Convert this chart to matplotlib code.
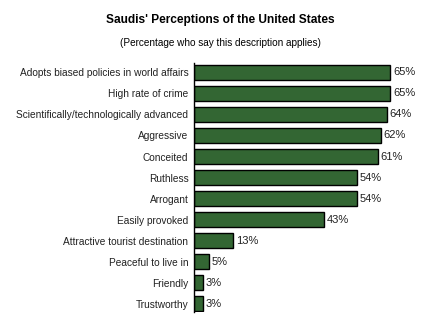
import matplotlib
matplotlib.use("Agg")
import matplotlib.pyplot as plt

categories = [
    "Adopts biased policies in world affairs",
    "High rate of crime",
    "Scientifically/technologically advanced",
    "Aggressive",
    "Conceited",
    "Ruthless",
    "Arrogant",
    "Easily provoked",
    "Attractive tourist destination",
    "Peaceful to live in",
    "Friendly",
    "Trustworthy",
]
values = [65, 65, 64, 62, 61, 54, 54, 43, 13, 5, 3, 3]

title = "Saudis' Perceptions of the United States"
subtitle = "(Percentage who say this description applies)"

plt.rcParams["font.family"] = ["Liberation Sans", "DejaVu Sans"]

fig = plt.figure(figsize=(4.4, 3.25), dpi=100)
ax = fig.add_axes([194 / 440, 1 - 312 / 325, 226 / 440, (312 - 63) / 325])

y = list(range(len(categories)))
ax.barh(y, values, height=0.72, color="#336633", edgecolor="black", linewidth=1.0)

for yi, v in zip(y, values):
    ax.text(v + 1.0, yi, f"{v}%", va="center", ha="left", fontsize=8, color="#222222")

ax.set_yticks(y)
ax.set_yticklabels(categories, fontsize=7.25, color="#222222")
ax.tick_params(axis="y", length=0, pad=4)
ax.set_xticks([])
ax.set_xlim(0, 75)
ax.set_ylim(len(categories) - 0.6, -0.45)

for side in ["top", "right", "bottom"]:
    ax.spines[side].set_visible(False)
ax.spines["left"].set_linewidth(1.0)

fig.text(0.5, 1 - 20 / 325, title, ha="center", va="center", fontsize=8.6, fontweight="bold")
fig.text(0.5, 1 - 43 / 325, subtitle, ha="center", va="center", fontsize=7.2)

fig.savefig("out.png", dpi=100, facecolor="white")
